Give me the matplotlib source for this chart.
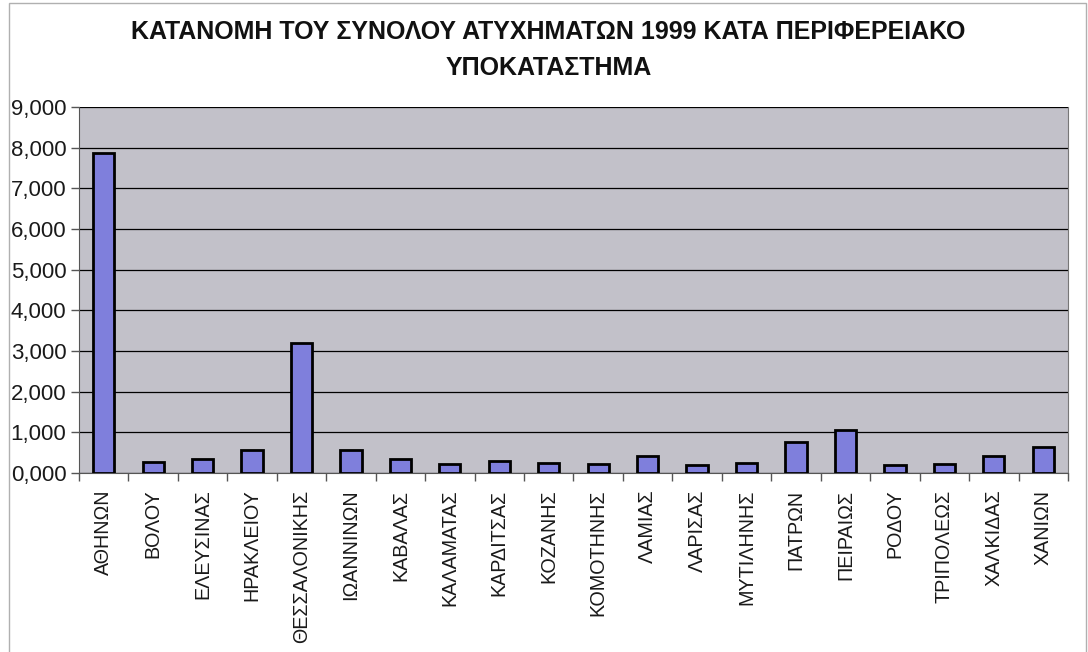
import matplotlib.pyplot as plt
import numpy as np

plt.rcParams['font.family'] = ['Liberation Sans', 'DejaVu Sans']

# accidents 1999 per regional branch
branches = ['ΑΘΗΝΩΝ', 'ΒΟΛΟΥ', 'ΕΛΕΥΣΙΝΑΣ', 'ΗΡΑΚΛΕΙΟΥ', 'ΘΕΣΣΑΛΟΝΙΚΗΣ',
            'ΙΩΑΝΝΙΝΩΝ', 'ΚΑΒΑΛΑΣ', 'ΚΑΛΑΜΑΤΑΣ', 'ΚΑΡΔΙΤΣΑΣ', 'ΚΟΖΑΝΗΣ',
            'ΚΟΜΟΤΗΝΗΣ', 'ΛΑΜΙΑΣ', 'ΛΑΡΙΣΑΣ', 'ΜΥΤΙΛΗΝΗΣ', 'ΠΑΤΡΩΝ',
            'ΠΕΙΡΑΙΩΣ', 'ΡΟΔΟΥ', 'ΤΡΙΠΟΛΕΩΣ', 'ΧΑΛΚΙΔΑΣ', 'ΧΑΝΙΩΝ']
accidents = [7860, 270, 340, 560, 3200,
             560, 340, 230, 290, 250,
             220, 410, 200, 250, 760,
             1070, 190, 210, 420, 640]

y_ticks = [0, 1000, 2000, 3000, 4000, 5000, 6000, 7000, 8000, 9000]
y_labels = ['0,000', '1,000', '2,000', '3,000', '4,000',
            '5,000', '6,000', '7,000', '8,000', '9,000']

title_1 = 'ΚΑΤΑΝΟΜΗ ΤΟΥ ΣΥΝΟΛΟΥ ΑΤΥΧΗΜΑΤΩΝ 1999 ΚΑΤΑ ΠΕΡΙΦΕΡΕΙΑΚΟ'
title_2 = 'ΥΠΟΚΑΤΑΣΤΗΜΑ'

fig = plt.figure(figsize=(10.88, 6.52), dpi=100)
fig.patch.set_facecolor('white')

# thin frame around the chart area
frame = plt.Rectangle((0.008, -0.02), 0.99, 1.015, transform=fig.transFigure,
                      fill=False, edgecolor='#b0b0b0', linewidth=1.0)
fig.add_artist(frame)

ax = fig.add_axes([0.0726, 0.2745, 0.909, 0.5614])
ax.set_facecolor('#c2c1c9')

x = np.arange(len(branches))
ax.bar(x, accidents, width=0.43, color='#7f7fdc', edgecolor='black',
       linewidth=2, zorder=3)

ax.set_xlim(-0.5, len(branches) - 0.5)
ax.set_ylim(0, 9000)
ax.set_yticks(y_ticks)
ax.set_yticklabels(y_labels, fontsize=16, color='#1a1a1a')
ax.yaxis.grid(True, color='black', linewidth=0.9, zorder=1)

ax.set_xticks(x)
ax.set_xticklabels(branches, rotation=90, fontsize=14.2, color='#1a1a1a')
ax.set_xticks(np.arange(-0.5, len(branches)), minor=True)
ax.tick_params(axis='x', which='major', length=0, pad=12)
ax.tick_params(axis='x', which='minor', length=6, width=1, color='#555555')
ax.tick_params(axis='y', length=6, width=1, color='#555555', pad=3)

ax.spines['top'].set_visible(False)
ax.spines['left'].set_color('#555555')
ax.spines['bottom'].set_color('#555555')
ax.spines['right'].set_color('#777777')

fig.text(0.504, 0.951, title_1, ha='center', va='center',
         fontsize=18, fontweight='bold', color='#111111')
fig.text(0.504, 0.896, title_2, ha='center', va='center',
         fontsize=18, fontweight='bold', color='#111111')

plt.savefig('out.png', dpi=100)
